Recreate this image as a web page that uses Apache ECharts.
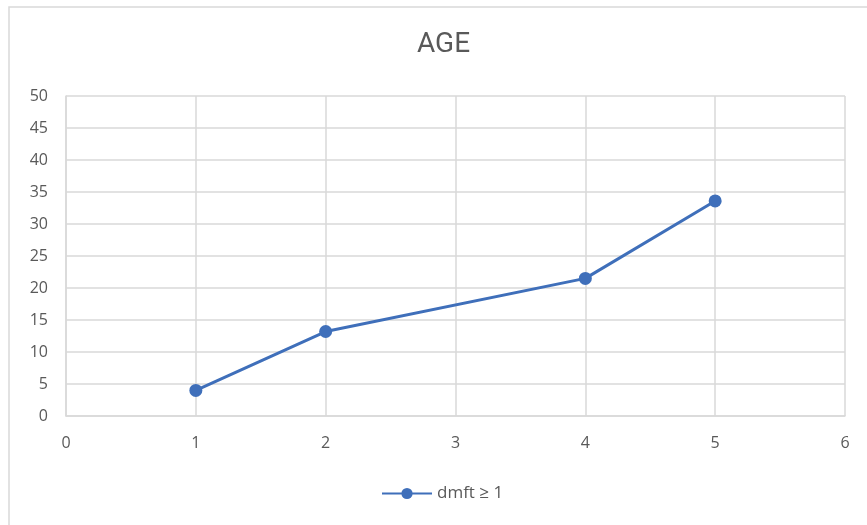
<!DOCTYPE html>
<html>
<head>
<meta charset="utf-8">
<script src="https://cdn.jsdelivr.net/npm/echarts@6/dist/echarts.min.js"></script>
<style>
  html, body { margin: 0; padding: 0; background: #fff; }
  #main { width: 867px; height: 525px; }
</style>
</head>
<body>
<div id="main"></div>
<script>
// age group vs dmft >= 1
var xValues = [1, 2, 4, 5];
var dmftValues = [4, 13.2, 21.5, 33.6];
var seriesName = 'dmft \u2265 1';

var chart = echarts.init(document.getElementById('main'));

var option = {
  backgroundColor: '#fff',
  animation: false,
  textStyle: { fontFamily: 'Open Sans, Lato, sans-serif' },
  graphic: [{
    type: 'rect',
    shape: { x: 9, y: 7, width: 870, height: 530 },
    style: { fill: 'none', stroke: '#d9d9d9', lineWidth: 1.5 },
    silent: true
  }],
  title: {
    text: 'AGE',
    left: 412,
    top: 26,
    textStyle: { color: '#595959', fontSize: 28, fontWeight: 'normal', fontFamily: 'Liberation Sans Narrow, Roboto, sans-serif' }
  },
  legend: {
    top: 480,
    left: 376,
    itemWidth: 50,
    itemHeight: 14,
    itemGap: 6,
    textStyle: { color: '#595959', fontSize: 17 },
    data: [seriesName]
  },
  grid: { left: 66, right: 22, top: 96, bottom: 109 },
  xAxis: {
    type: 'value',
    min: 0,
    max: 6,
    interval: 1,
    axisLine: { show: true, lineStyle: { color: '#d9d9d9', width: 1.5 } },
    axisTick: { show: false },
    axisLabel: { color: '#595959', fontSize: 16, margin: 19 },
    splitLine: { show: true, lineStyle: { color: '#d9d9d9', width: 1.5 } }
  },
  yAxis: {
    type: 'value',
    min: 0,
    max: 50,
    interval: 5,
    axisLine: { show: true, lineStyle: { color: '#d9d9d9', width: 1.5 } },
    axisTick: { show: false },
    axisLabel: { color: '#595959', fontSize: 16, margin: 18 },
    splitLine: { show: true, lineStyle: { color: '#d9d9d9', width: 1.5 } }
  },
  series: [{
    name: seriesName,
    type: 'line',
    data: xValues.map(function (x, i) { return [x, dmftValues[i]]; }),
    symbol: 'circle',
    symbolSize: 13,
    lineStyle: { color: '#3f6fba', width: 3 },
    itemStyle: { color: '#3f6fba' }
  }]
};

chart.setOption(option);
</script>
</body>
</html>
